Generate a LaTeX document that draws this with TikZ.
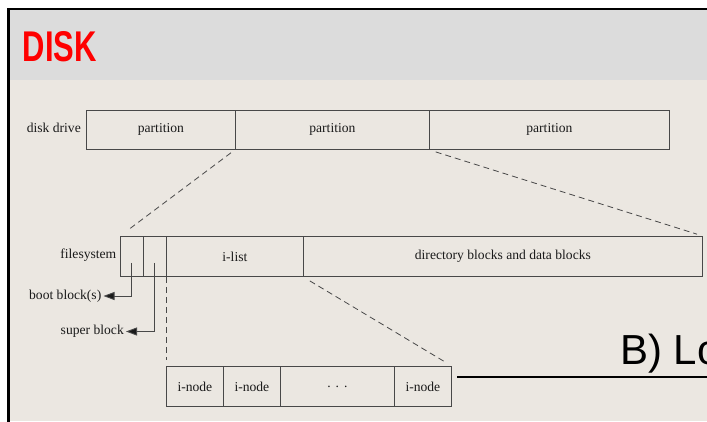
\documentclass[tikz,border=0pt]{standalone}
\usepackage{fontspec}
\setmainfont{Liberation Serif}
\newfontfamily\headfont{Liberation Sans}
\usetikzlibrary{arrows.meta}
\definecolor{headgray}{HTML}{DCDCDC}
\definecolor{paper}{HTML}{EBE7E1}
\definecolor{ink}{HTML}{484848}
\definecolor{txt}{HTML}{1A1A1A}

\begin{document}
\begin{tikzpicture}[x=1pt,y=-1pt,
  cell/.style={draw=ink, line width=0.8pt, minimum height=39pt, inner sep=0pt,
    anchor=north west, font=\fontsize{13.6}{15}\selectfont, text=txt},
  lbl/.style={font=\fontsize{13.6}{15}\selectfont, text=txt, inner sep=0pt},
  guide/.style={draw=ink, line width=0.8pt, dash pattern=on 6pt off 4pt},
  pointer/.style={draw=ink, line width=0.9pt,
    -{Triangle[length=11pt,width=8pt,fill=txt]}}]

\useasboundingbox (0,0) rectangle (707,421);
\clip (0,0) rectangle (707,421);

% slide background, header band and frame
\fill[white] (0,0) rectangle (707,421);
\fill[paper] (8,80) rectangle (707,421);
\fill[headgray] (8,9) rectangle (707,80);
\draw[line width=2.5pt, line cap=rect] (8.3,421) -- (8.3,9) -- (707,9);

\node[anchor=base west, inner sep=0pt, text=red,
  font=\headfont\bfseries\fontsize{43}{43}\selectfont] (title) at (22.5,61)
  {\scalebox{0.72}[1]{DISK}};

% disk drive
\node[lbl, anchor=east] (drive) at (81,128) {disk drive};
\node[cell, minimum width=149pt] (p1) at (86,110) {partition};
\node[cell, minimum width=194pt] (p2) at (235,110) {partition};
\node[cell, minimum width=240pt] (p3) at (429,110) {partition};

% file system
\node[lbl, anchor=east] (fs) at (116.5,255) {filesystem};
\node[cell, minimum width=23pt, minimum height=40pt] (f1) at (120,236) {};
\node[cell, minimum width=23pt, minimum height=40pt] (f2) at (143,236) {};
\node[cell, minimum width=137pt, minimum height=40pt] (f3) at (166,236) {i-list};
\node[cell, minimum width=399pt, minimum height=40pt] (f4) at (303,236) {directory blocks and data blocks};

\draw[guide, shorten <=5pt, shorten >=9pt] (p2.south west) -- (f1.north west);
\draw[guide, shorten <=7pt, shorten >=6pt] (p3.south west) -- (f4.north east);

% boot and super block pointers
\node[lbl, anchor=east] (boot) at (101.5,296) {boot block(s)};
\node[lbl, anchor=east] (super) at (124,331.5) {super block};
\draw[pointer, shorten >=2pt] ([yshift=14pt]f1.south) |- (boot.east);
\draw[pointer, shorten >=2pt] ([yshift=14pt]f2.south) |- (super.east);

% i-list
\node[cell, minimum width=57pt, minimum height=40pt] (i1) at (166,366) {i-node};
\node[cell, minimum width=57pt, minimum height=40pt] (i2) at (223,366) {i-node};
\node[cell, minimum width=114pt, minimum height=40pt] (i3) at (280,366) {.\hspace{5pt}.\hspace{5pt}.};
\node[cell, minimum width=57pt, minimum height=40pt] (i4) at (394,366) {i-node};

\draw[guide, shorten >=6pt] (f3.south west) -- (i1.north west);
\draw[guide, shorten <=8pt, shorten >=8pt] (f4.south west) -- (i4.north east);

% next section heading
\node[anchor=base west, inner sep=0pt, font=\headfont\fontsize{42}{42}\selectfont] (next) at (620,364) {B) Lo};
\coordinate (ruleL) at (457,377);
\coordinate (ruleR) at (707,377);
\draw[line width=2pt] (ruleL) -- (ruleR);
\end{tikzpicture}
\end{document}
